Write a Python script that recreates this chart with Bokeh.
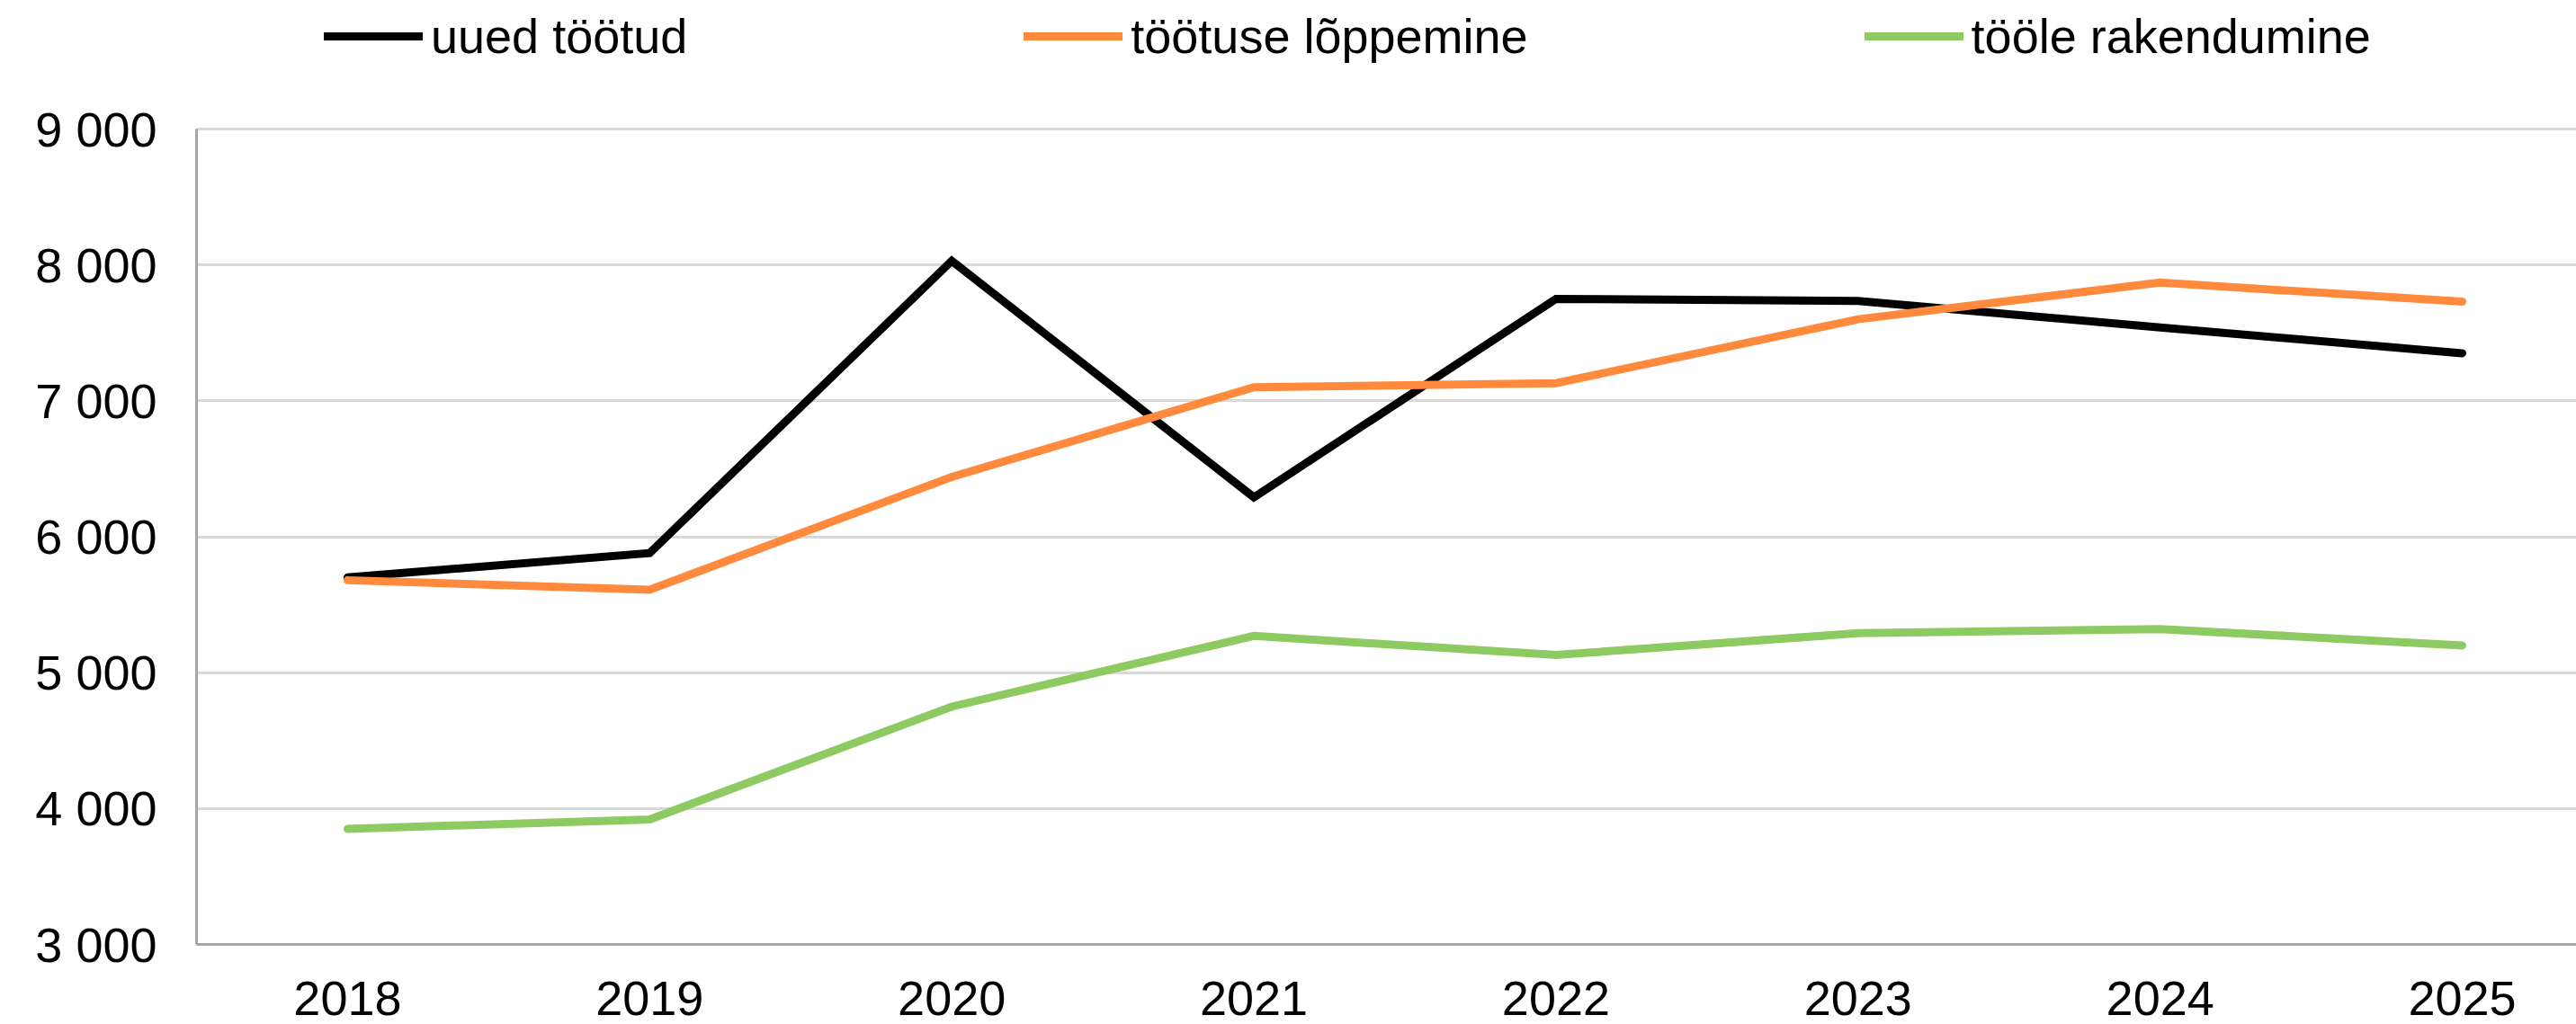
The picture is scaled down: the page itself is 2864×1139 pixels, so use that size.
from bokeh.plotting import figure
from bokeh.models import FixedTicker, Legend, LegendItem, Range1d
from bokeh.embed import file_html
from bokeh.resources import INLINE

# ---- data ----
years = [2018, 2019, 2020, 2021, 2022, 2023, 2024, 2025]
uued_tootud = [5700, 5880, 8030, 6290, 7750, 7735, 7540, 7350]
tootuse_loppemine = [5680, 5610, 6440, 7100, 7130, 7600, 7870, 7730]
toole_rakendumine = [3850, 3920, 4750, 5270, 5130, 5290, 5320, 5200]
series_names = ["uued töötud", "töötuse lõppemine", "tööle rakendumine"]
series_colors = ["#000000", "#FF8A3D", "#8DCB62"]
y_ticks = [3000, 4000, 5000, 6000, 7000, 8000, 9000]
y_tick_labels = ["3 000", "4 000", "5 000", "6 000", "7 000", "8 000", "9 000"]
x_tick_labels = [str(y) for y in years]

FONT = "Liberation Sans"
FS = "54px"

# the frame reaches the top edge; the value axis itself is bounded to 3000..9000
p = figure(width=2864, height=1139, output_backend="svg", toolbar_location=None,
           x_range=Range1d(2017.5, 2025.378), y_range=Range1d(3000, 9946),
           min_border_left=218, min_border_right=0, min_border_top=0, min_border_bottom=89)
p.outline_line_color = None
p.background_fill_color = "white"
p.border_fill_color = "white"

renderers = []
for vals, name, col in zip([uued_tootud, tootuse_loppemine, toole_rakendumine], series_names, series_colors):
    r = p.line(years, vals, line_color=col, line_width=9, line_join="miter", line_cap="round")
    renderers.append(r)

# axes
p.xaxis.ticker = FixedTicker(ticks=years)
p.xaxis.major_label_overrides = {y: l for y, l in zip(years, x_tick_labels)}
p.yaxis.ticker = FixedTicker(ticks=y_ticks)
p.yaxis.major_label_overrides = {t: l for t, l in zip(y_ticks, y_tick_labels)}
p.yaxis.bounds = (y_ticks[0], y_ticks[-1])
for ax in (p.xaxis, p.yaxis):
    ax.major_tick_out = 0
    ax.major_tick_in = 0
    ax.minor_tick_out = 0
    ax.minor_tick_in = 0
    ax.major_label_text_font = FONT
    ax.major_label_text_font_size = FS
    ax.major_label_text_color = "black"
    ax.axis_line_color = "#A6A6A6"
p.yaxis.axis_line_width = 3
p.xaxis.axis_line_width = 3
p.yaxis.major_label_standoff = 44
p.xaxis.major_label_standoff = 41

p.xgrid.grid_line_color = None
p.ygrid.grid_line_color = "#D9D9D9"
p.ygrid.grid_line_width = 3

legend = Legend(
    items=[LegendItem(label=n, renderers=[r]) for n, r in zip(series_names, renderers)],
    orientation="horizontal", location=(142, 975),
    spacing=374, label_standoff=9, glyph_width=110, glyph_height=70, label_height=70,
    padding=0, margin=0, border_line_color=None, background_fill_alpha=0,
    label_text_font=FONT, label_text_font_size=FS, label_text_color="black",
)
p.add_layout(legend, "center")

open("out.html", "w").write(file_html(p, INLINE))
